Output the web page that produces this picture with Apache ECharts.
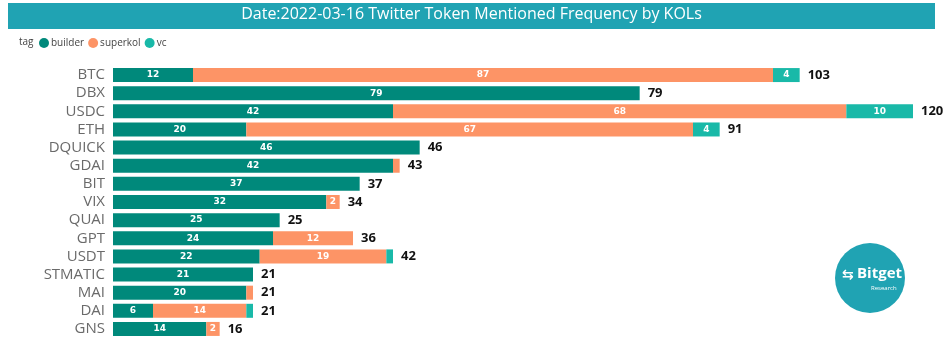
<!DOCTYPE html>
<html><head><meta charset="utf-8">
<script src="https://cdn.jsdelivr.net/npm/echarts@6/dist/echarts.min.js"></script>
<style>html,body{margin:0;padding:0;background:#fff}#c{width:943px;height:357px}</style>
</head><body><div id="c"></div>
<script>
const categories = ['BTC','DBX','USDC','ETH','DQUICK','GDAI','BIT','VIX','QUAI','GPT','USDT','STMATIC','MAI','DAI','GNS'];
const builder  = [12,79,42,20,46,42,37,32,25,24,22,21,20,6,14];
const superkol = [87,0,68,67,0,1,0,2,0,12,19,0,1,14,2];
const vc       = [4,0,10,4,0,0,0,0,0,0,1,0,0,1,0];
const totals = categories.map((_, i) => builder[i] + superkol[i] + vc[i]);

const chart = echarts.init(document.getElementById('c'));
const inner = {
  show: true, position: 'inside', color: '#fff', fontSize: 9, fontWeight: 'bold',
  fontFamily: 'DejaVu Sans',
  formatter: p => (p.value >= 2 ? p.value : '')
};
chart.setOption({
  animation: false,
  graphic: [
    { type: 'rect', z: 10, shape: { x: 8, y: 3, width: 927, height: 26 }, style: { fill: '#20a3b3' } },
    { type: 'text', z: 11, left: 'center', top: 6, style: { text: 'Date:2022-03-16 Twitter Token Mentioned Frequency by KOLs', fill: '#fff', fontSize: 16, fontFamily: 'Open Sans' } },
    { type: 'text', z: 11, left: 19, top: 37, style: { text: 'tag', fill: '#444', fontSize: 10, fontFamily: 'Open Sans' } },
    { type: 'circle', z: 10, shape: { cx: 870, cy: 278, r: 35 }, style: { fill: '#20a3b3' } },
    { type: 'text', z: 11, left: 842, top: 268, style: { text: '⇆', fill: '#fff', fontSize: 14, fontWeight: 'bold', fontFamily: 'DejaVu Sans' } },
    { type: 'text', z: 11, left: 857, top: 266, style: { text: 'Bitget', fill: '#fff', fontSize: 15, fontWeight: 'bold', fontFamily: 'Open Sans' } },
    { type: 'text', z: 11, left: 871, top: 285, style: { text: 'Research', fill: '#fff', fontSize: 6, fontFamily: 'Open Sans' } }
  ],
  legend: {
    data: ['builder', 'superkol', 'vc'], left: 39, top: 38, padding: 0, icon: 'circle',
    itemWidth: 10, itemHeight: 10, itemGap: 4,
    textStyle: { fontSize: 10, color: '#444', fontFamily: 'Open Sans', padding: [0, 0, 0, -3] }
  },
  grid: { left: 113, right: 30, top: 66, bottom: 19, containLabel: false },
  xAxis: { type: 'value', min: 0, max: 120, show: false },
  yAxis: {
    type: 'category', data: categories, inverse: true,
    axisLine: { show: false }, axisTick: { show: false },
    axisLabel: { interval: 0, fontSize: 15, color: '#6a6a6a', margin: 8, fontFamily: 'Open Sans' }
  },
  series: [
    { name: 'builder', type: 'bar', stack: 't', data: builder, barWidth: 14, itemStyle: { color: '#00897b' }, label: inner },
    { name: 'superkol', type: 'bar', stack: 't', data: superkol, itemStyle: { color: '#fd9466' }, label: inner },
    { name: 'vc', type: 'bar', stack: 't', data: vc, itemStyle: { color: '#19b9a8' }, label: inner },
    { name: 'total', type: 'bar', stack: 't', data: categories.map(() => 0), itemStyle: { color: 'transparent' },
      label: { show: true, position: 'right', distance: 8, color: '#111', fontSize: 13, fontWeight: 'bold', fontFamily: 'Open Sans',
        formatter: p => totals[p.dataIndex] } }
  ]
});
</script></body></html>
